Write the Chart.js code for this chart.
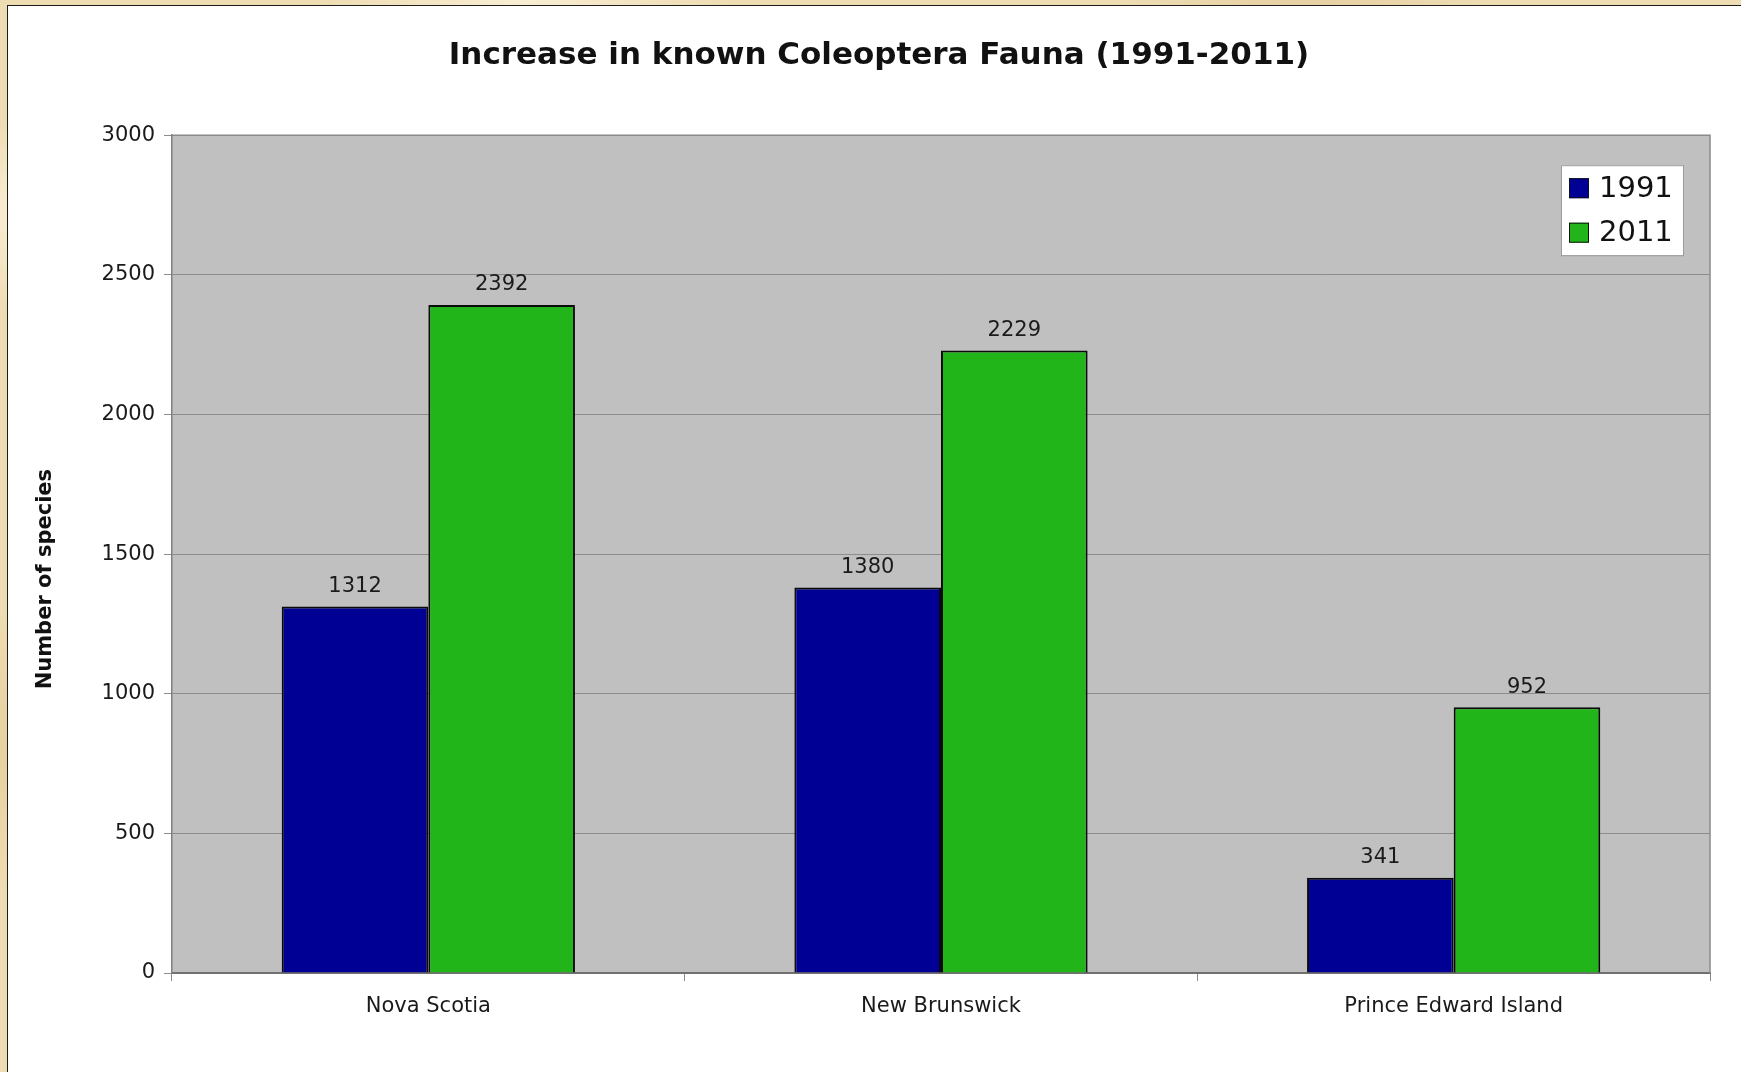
<!DOCTYPE html>
<html>
<head>
<meta charset="utf-8">
<title>Increase in known Coleoptera Fauna (1991-2011)</title>
<script src="https://cdn.jsdelivr.net/npm/chart.js@4.4.1/dist/chart.umd.min.js"></script>
<style>
  html, body { margin: 0; padding: 0; width: 1741px; height: 1072px; overflow: hidden; }
  body {
    background-color: #eedcb2;
    background-image:
      radial-gradient(ellipse 220px 140px at 3% 20%, rgba(255,248,230,0.8), rgba(255,248,230,0) 70%),
      radial-gradient(ellipse 300px 120px at 30% 0%, rgba(250,240,215,0.9), rgba(250,240,215,0) 70%),
      radial-gradient(ellipse 180px 200px at 2% 70%, rgba(225,200,150,0.7), rgba(225,200,150,0) 70%),
      radial-gradient(ellipse 260px 90px at 75% 0%, rgba(228,205,160,0.8), rgba(228,205,160,0) 70%);
  }
  #panel {
    position: absolute; left: 7px; top: 5px; width: 1800px; height: 1200px;
    background: #ffffff; border: 1px solid #1c1c1c;
  }
  #chart { position: absolute; left: 8px; top: 6px; }
</style>
</head>
<body>
<div id="panel"></div>
<canvas id="chart" width="1733" height="1066"></canvas>
<script>
const categories = ["Nova Scotia", "New Brunswick", "Prince Edward Island"];
const seriesNames = ["1991", "2011"];
const values1991 = [1312, 1380, 341];
const values2011 = [2392, 2229, 952];
const yTicks = [0, 500, 1000, 1500, 2000, 2500, 3000];

const colors = ["#000094", "#21b51a"];
const font = "'DejaVu Sans', Verdana, sans-serif";

// grey plot background + frame
const plotBackground = {
  id: "plotBackground",
  beforeDraw(chart) {
    const { ctx, chartArea: a } = chart;
    ctx.save();
    ctx.fillStyle = "#c0c0c0";
    ctx.fillRect(a.left, a.top, a.right - a.left, a.bottom - a.top);
    ctx.restore();
  },
  afterDraw(chart) {
    const { ctx, chartArea: a } = chart;
    ctx.save();
    ctx.strokeStyle = "#8a8a8a";
    ctx.lineWidth = 1.5;
    ctx.beginPath();
    ctx.moveTo(a.left, a.top);
    ctx.lineTo(a.right, a.top);
    ctx.lineTo(a.right, a.bottom);
    ctx.stroke();
    ctx.restore();
  }
};

// value labels above each bar
const barValues = {
  id: "barValues",
  afterDatasetsDraw(chart) {
    const ctx = chart.ctx;
    ctx.save();
    ctx.font = "21px " + font;
    ctx.fillStyle = "#1a1a1a";
    ctx.textAlign = "center";
    ctx.textBaseline = "middle";
    chart.data.datasets.forEach((ds, i) => {
      chart.getDatasetMeta(i).data.forEach((bar, j) => {
        ctx.fillText(String(ds.data[j]), bar.x, bar.y - 20);
      });
    });
    ctx.restore();
  }
};

// boxed legend in the upper right of the plot, y axis title
const boxLegend = {
  id: "boxLegend",
  afterDraw(chart) {
    const { ctx, chartArea: a } = chart;
    const w = 122, h = 90;
    const x = a.right - 27 - w;
    const y = a.top + 30;
    ctx.save();
    ctx.fillStyle = "#ffffff";
    ctx.fillRect(x, y, w, h);
    ctx.strokeStyle = "#9a9a9a";
    ctx.lineWidth = 1;
    ctx.strokeRect(x + 0.5, y + 0.5, w, h);
    ctx.font = "29px " + font;
    ctx.textBaseline = "middle";
    ctx.textAlign = "left";
    chart.data.datasets.forEach((ds, i) => {
      const cy = y + 23 + i * 44.5;
      ctx.fillStyle = ds.backgroundColor;
      ctx.fillRect(x + 8, cy - 10, 20, 20);
      ctx.strokeStyle = "#111";
      ctx.lineWidth = 1;
      ctx.strokeRect(x + 8.5, cy - 9.5, 19, 19);
      ctx.fillStyle = "#111";
      ctx.fillText(ds.label, x + 38, cy + 1);
    });

    ctx.translate(38, (a.top + a.bottom) / 2 + 25);
    ctx.rotate(-Math.PI / 2);
    ctx.font = "bold 21px " + font;
    ctx.textAlign = "center";
    ctx.fillStyle = "#111";
    ctx.fillText("Number of species", 0, 0);
    ctx.restore();
  }
};

new Chart(document.getElementById("chart"), {
  type: "bar",
  data: {
    labels: categories,
    datasets: [
      { label: seriesNames[0], data: values1991, backgroundColor: colors[0] },
      { label: seriesNames[1], data: values2011, backgroundColor: colors[1] }
    ]
  },
  options: {
    responsive: false,
    devicePixelRatio: 1,
    animation: false,
    layout: { padding: { left: 40, right: 31, top: 0, bottom: 0 } },
    datasets: {
      bar: {
        categoryPercentage: 0.572,
        barPercentage: 1.0,
        borderColor: "#0a0a0a",
        borderWidth: 2
      }
    },
    plugins: {
      legend: { display: false },
      tooltip: { enabled: false },
      title: {
        display: true,
        text: "Increase in known Coleoptera Fauna (1991-2011)",
        color: "#111",
        font: { family: font, size: 31, weight: "bold" },
        padding: { top: 31, bottom: 61 }
      }
    },
    scales: {
      x: {
        afterFit(scale) { scale.height = 99; },
        grid: {
          offset: true,
          drawOnChartArea: false,
          drawTicks: true,
          tickLength: 8,
          color: "#8a8a8a"
        },
        border: { color: "#707070", width: 2 },
        ticks: { color: "#1a1a1a", padding: 13, font: { family: font, size: 21 } }
      },
      y: {
        min: 0,
        max: 3000,
        afterFit(scale) { scale.width = 124; },
        afterBuildTicks(scale) { scale.ticks = yTicks.map(v => ({ value: v })); },
        grid: { color: "#8c8c8c", lineWidth: 1, tickLength: 8 },
        border: { color: "#808080", width: 1.5 },
        ticks: {
          color: "#1a1a1a",
          padding: 9,
          font: { family: font, size: 21 },
          callback: v => String(v)
        }
      }
    }
  },
  plugins: [plotBackground, barValues, boxLegend]
});
</script>
</body>
</html>
